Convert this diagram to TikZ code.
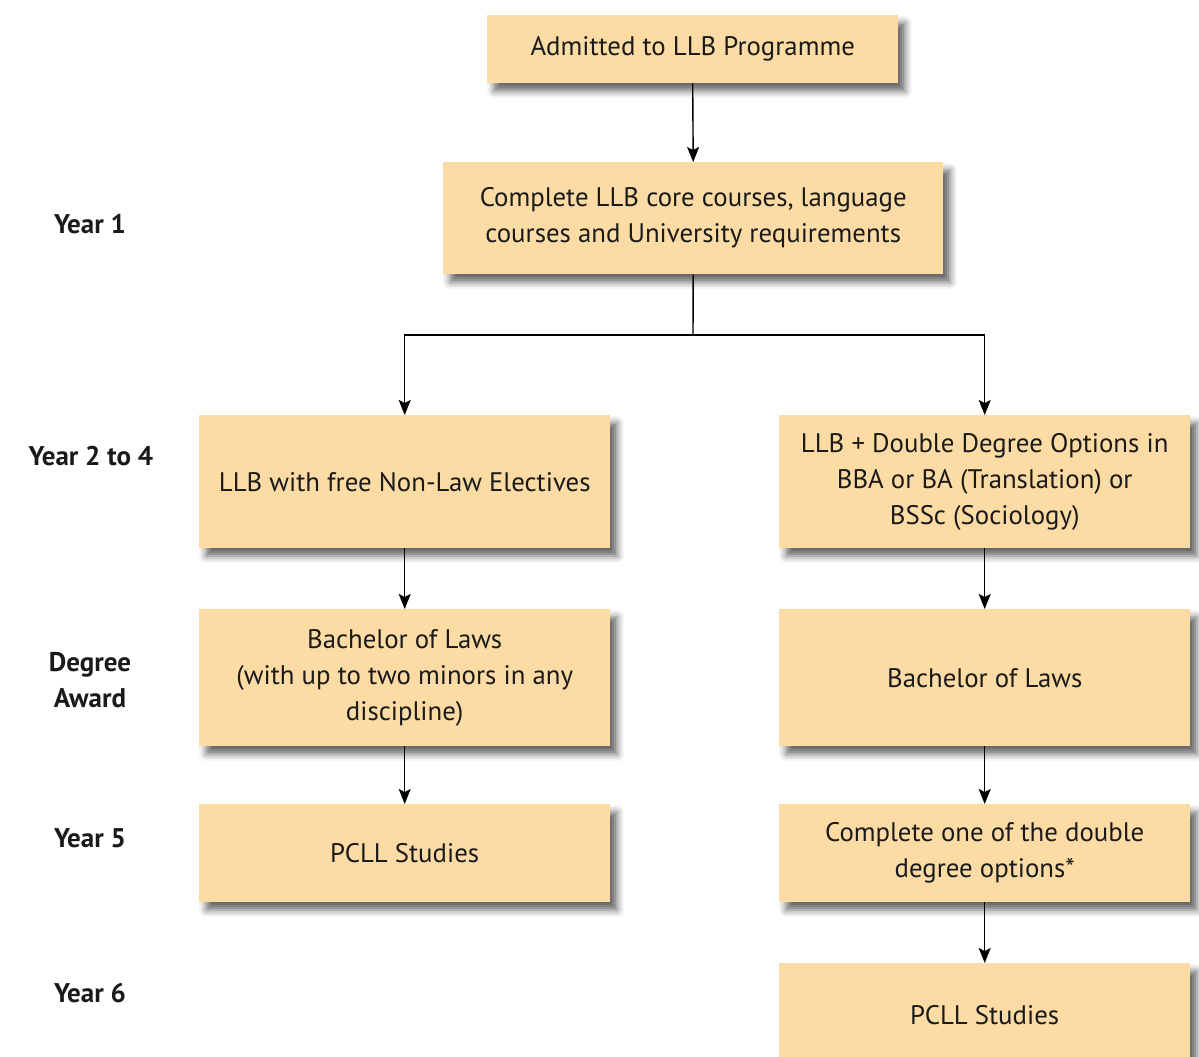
\documentclass[tikz,border=0pt]{standalone}
\usepackage{fontspec}
\setmainfont{PT Sans}
\usetikzlibrary{arrows.meta,shadows.blur}
\definecolor{boxfill}{HTML}{FCDBA5}
\definecolor{ink}{HTML}{1A1A1A}
\tikzset{
  box/.style={rectangle, fill=boxfill, draw=none, anchor=north west, align=center,
    inner sep=0pt, text=ink, font=\fontsize{26.8}{36}\selectfont,
    blur shadow={shadow xshift=7pt, shadow yshift=-8pt, shadow blur radius=7pt, shadow opacity=60}},
  lbl/.style={align=center, text=ink, font=\fontsize{27}{36}\selectfont\bfseries},
  arr/.style={line width=1.4pt, -{Stealth[length=15pt,width=12pt,inset=3pt]}},
  ln/.style={line width=1.4pt}
}
\begin{document}
\begin{tikzpicture}[x=1pt,y=-1pt]
\useasboundingbox (0,0) rectangle (1199,1057);
\node[box, minimum width=411pt, minimum height=68pt] (A) at (487,15) {Admitted to LLB Programme};
\node[box, minimum width=500pt, minimum height=112pt] (B) at (443,162) {Complete LLB core courses, language\\courses and University requirements};
\node[box, minimum width=411pt, minimum height=133pt] (C) at (199,415) {LLB with free Non-Law Electives};
\node[box, minimum width=411pt, minimum height=133pt] (D) at (779,415) {LLB + Double Degree Options in\\BBA or BA (Translation) or\\BSSc (Sociology)};
\node[box, minimum width=411pt, minimum height=137pt] (E) at (199,609) {Bachelor of Laws\\(with up to two minors in any\\discipline)};
\node[box, minimum width=411pt, minimum height=137pt] (F) at (779,609) {Bachelor of Laws};
\node[box, minimum width=411pt, minimum height=98pt] (G) at (199,804) {PCLL Studies};
\node[box, minimum width=411pt, minimum height=98pt] (H) at (779,804) {Complete one of the double\\degree options*};
\node[box, minimum width=411pt, minimum height=104pt] (I) at (779,963) {PCLL Studies};

\node[lbl] (L1) at (90,224) {Year 1};
\node[lbl] (L2) at (91,456) {Year 2 to 4};
\node[lbl] (L3) at (90,680) {Degree\\Award};
\node[lbl] (L4) at (90,838) {Year 5};
\node[lbl] (L5) at (90,993) {Year 6};

\coordinate (split) at (693,335);
\draw[arr] (A.south) -- (B.north);
\draw[ln] (B.south) -- (split);
\draw[arr] (split) -| (C.north);
\draw[arr] (split) -| (D.north);
\draw[arr] (C.south) -- (E.north);
\draw[arr] (D.south) -- (F.north);
\draw[arr] (E.south) -- (G.north);
\draw[arr] (F.south) -- (H.north);
\draw[arr] (H.south) -- (I.north);
\end{tikzpicture}
\end{document}
